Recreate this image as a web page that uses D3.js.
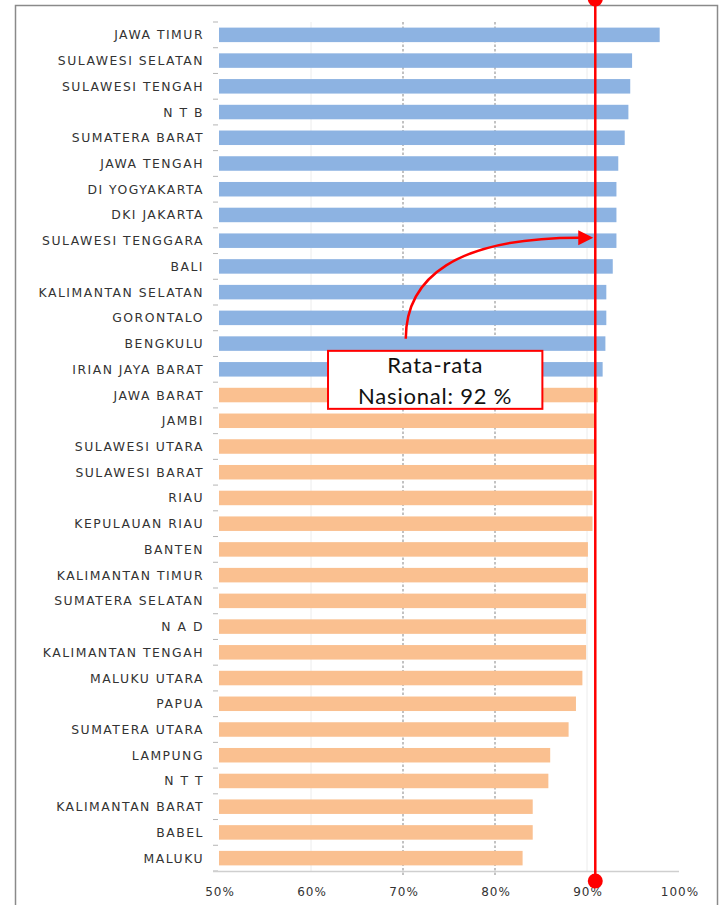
<!DOCTYPE html>
<html>
<head>
<meta charset="utf-8">
<script src="https://cdn.jsdelivr.net/npm/d3@7"></script>
<style>
  html, body { margin: 0; padding: 0; background: #fff; }
  svg { display: block; }
</style>
</head>
<body>
<div id="chart"></div>
<script>
const categories = [
  "JAWA TIMUR", "SULAWESI SELATAN", "SULAWESI TENGAH", "N T B", "SUMATERA BARAT",
  "JAWA TENGAH", "DI YOGYAKARTA", "DKI JAKARTA", "SULAWESI TENGGARA", "BALI",
  "KALIMANTAN SELATAN", "GORONTALO", "BENGKULU", "IRIAN JAYA BARAT", "JAWA BARAT",
  "JAMBI", "SULAWESI UTARA", "SULAWESI BARAT", "RIAU", "KEPULAUAN RIAU",
  "BANTEN", "KALIMANTAN TIMUR", "SUMATERA SELATAN", "N A D", "KALIMANTAN TENGAH",
  "MALUKU UTARA", "PAPUA", "SUMATERA UTARA", "LAMPUNG", "N T T",
  "KALIMANTAN BARAT", "BABEL", "MALUKU"
];
const values = [
  97.9, 94.9, 94.7, 94.5, 94.1,
  93.4, 93.2, 93.2, 93.2, 92.8,
  92.1, 92.1, 92.0, 91.7, 91.2,
  90.9, 90.9, 90.8, 90.6, 90.6,
  90.1, 90.1, 89.9, 89.9, 89.9,
  89.5, 88.8, 88.0, 86.0, 85.8,
  84.1, 84.1, 83.0
];
// group: "above" = blue, "below" = orange
const groups = categories.map((c, i) => i < 14 ? "above" : "below");
const xTicks = [50, 60, 70, 80, 90, 100];
const xTickLabels = ["50%", "60%", "70%", "80%", "90%", "100%"];
const averageLineValue = 90.9;
const annotationLines = ["Rata-rata", "Nasional: 92 %"];

const W = 720, H = 905;
const svg = d3.select("#chart").append("svg").attr("width", W).attr("height", H);

// outer frame
svg.append("rect").attr("x", 15.5).attr("y", 5.5).attr("width", 702).attr("height", 905)
  .attr("fill", "#fff").attr("stroke", "#8a8a8a").attr("stroke-width", 1.5);

const x = d3.scaleLinear().domain([50, 100]).range([219, 679]);
const y = d3.scaleBand().domain(categories).range([22, 871]).paddingInner(0.436).paddingOuter(0.218);
const bw = y.bandwidth();

// gridlines
const gridG = svg.append("g");
[60, 90].forEach(v => {
  gridG.append("line").attr("x1", x(v)).attr("x2", x(v)).attr("y1", 22).attr("y2", 871)
    .attr("stroke", "#ececec").attr("stroke-width", 1);
});
[70, 80].forEach(v => {
  gridG.append("line").attr("x1", x(v)).attr("x2", x(v)).attr("y1", 22).attr("y2", 877)
    .attr("stroke", "#9a9a9a").attr("stroke-width", 1.2).attr("stroke-dasharray", "2.5,2");
});

// category boundary ticks
const bounds = categories.map(c => y(c) - y.step() * y.paddingInner() / 2);
bounds.push(871);
svg.append("g").selectAll("line").data(bounds).join("line")
  .attr("x1", 213).attr("x2", 218).attr("y1", d => d).attr("y2", d => d)
  .attr("stroke", "#b5b5b5").attr("stroke-width", 1);

// bars
const colors = { above: "#8db3e2", below: "#fac090" };
svg.append("g").selectAll("rect").data(categories).join("rect")
  .attr("x", x(50))
  .attr("y", d => y(d))
  .attr("width", (d, i) => x(values[i]) - x(50))
  .attr("height", bw)
  .attr("fill", (d, i) => colors[groups[i]]);

// x axis line
svg.append("line").attr("x1", 213).attr("x2", x(100)).attr("y1", 871.5).attr("y2", 871.5)
  .attr("stroke", "#cfcfcf").attr("stroke-width", 1.5);

// x tick labels
svg.append("g").selectAll("text").data(xTicks).join("text")
  .attr("x", d => x(d) + 1)
  .attr("y", 896)
  .attr("text-anchor", "middle")
  .attr("font-family", "DejaVu Sans, sans-serif")
  .attr("font-size", 12)
  .attr("letter-spacing", 1)
  .attr("fill", "#333")
  .text((d, i) => xTickLabels[i]);

// category labels
svg.append("g").selectAll("text").data(categories).join("text")
  .attr("x", 204)
  .attr("y", d => y(d) + bw / 2)
  .attr("dy", "0.36em")
  .attr("text-anchor", "end")
  .attr("font-family", "DejaVu Sans, sans-serif")
  .attr("font-size", 12.4)
  .attr("letter-spacing", 1.5)
  .attr("fill", "#333")
  .text(d => d);

// average line
const ax = x(averageLineValue);
svg.append("line").attr("x1", ax).attr("x2", ax).attr("y1", 0).attr("y2", 881)
  .attr("stroke", "#ff0000").attr("stroke-width", 2.5);
svg.append("circle").attr("cx", ax).attr("cy", -1).attr("r", 7.5).attr("fill", "#ff0000");
svg.append("circle").attr("cx", ax).attr("cy", 881).attr("r", 7.5).attr("fill", "#ff0000");

// annotation box
const target = "SULAWESI TENGGARA";
const tipY = y(target) + bw / 2 - 3;
const boxTop = y("BENGKULU") + bw + 0;
const boxL = x(61.85), boxR = x(85.15);
const boxH = 58;
const startX = x(70.3), startY = boxTop - 12;
svg.append("path")
  .attr("d", `M${startX},${startY} C${startX},${tipY + 40} ${startX + 50},${tipY} ${ax - 16},${tipY}`)
  .attr("fill", "none").attr("stroke", "#ff0000").attr("stroke-width", 2.5);
svg.append("path")
  .attr("d", `M${ax - 2},${tipY} L${ax - 17},${tipY - 7.5} L${ax - 17},${tipY + 7.5} Z`)
  .attr("fill", "#ff0000");

svg.append("rect").attr("x", boxL).attr("y", boxTop).attr("width", boxR - boxL).attr("height", boxH)
  .attr("fill", "#fff").attr("stroke", "#ff0000").attr("stroke-width", 2);
svg.append("g").selectAll("text").data(annotationLines).join("text")
  .attr("x", (boxL + boxR) / 2)
  .attr("y", (d, i) => boxTop + 22 + i * 31)
  .attr("text-anchor", "middle")
  .attr("font-family", "Lato, sans-serif")
  .attr("font-size", 22)
  .attr("letter-spacing", 0.8)
  .attr("fill", "#111")
  .text(d => d);
</script>
</body>
</html>
